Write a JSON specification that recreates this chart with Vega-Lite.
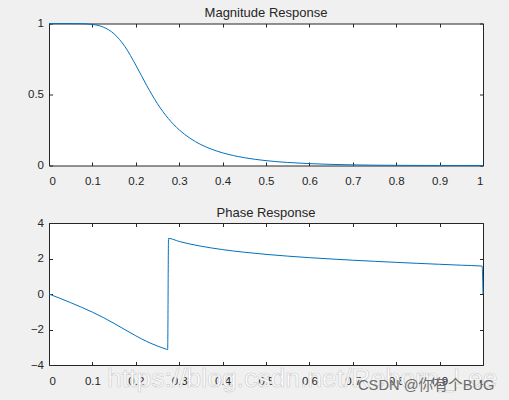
{
  "$schema": "https://vega.github.io/schema/vega-lite/v6.json",
  "background": "#f0f0f0",
  "padding": {"left": 0, "top": 6.5, "right": 11, "bottom": 7},
  "spacing": 18.5,
  "datasets": {
    "mag": [
      {"f": 0, "m": 1}, {"f": 0.025, "m": 1}, {"f": 0.05, "m": 0.9999}, {"f": 0.075, "m": 0.9988},
      {"f": 0.1, "m": 0.9934}, {"f": 0.125, "m": 0.9747}, {"f": 0.15, "m": 0.9273}, {"f": 0.175, "m": 0.837},
      {"f": 0.2, "m": 0.7071}, {"f": 0.225, "m": 0.5641}, {"f": 0.25, "m": 0.4346}, {"f": 0.275, "m": 0.3304},
      {"f": 0.3, "m": 0.251}, {"f": 0.325, "m": 0.1917}, {"f": 0.35, "m": 0.1474}, {"f": 0.375, "m": 0.1142},
      {"f": 0.4, "m": 0.0891}, {"f": 0.45, "m": 0.055}, {"f": 0.5, "m": 0.0343}, {"f": 0.55, "m": 0.0214},
      {"f": 0.6, "m": 0.0132}, {"f": 0.65, "m": 0.0079}, {"f": 0.7, "m": 0.0045}, {"f": 0.75, "m": 0.0024},
      {"f": 0.8, "m": 0.0012}, {"f": 0.85, "m": 0.0005}, {"f": 0.9, "m": 0.0001}, {"f": 0.95, "m": 0}, {"f": 1, "m": 0}
    ],
    "phase": [
      {"f": 0, "p": 0}, {"f": 0.025, "p": -0.242}, {"f": 0.05, "p": -0.489}, {"f": 0.075, "p": -0.747},
      {"f": 0.1, "p": -1.023}, {"f": 0.125, "p": -1.324}, {"f": 0.15, "p": -1.657}, {"f": 0.175, "p": -2.009},
      {"f": 0.2, "p": -2.356}, {"f": 0.225, "p": -2.669}, {"f": 0.25, "p": -2.932}, {"f": 0.26, "p": -3.023},
      {"f": 0.27, "p": -3.108}, {"f": 0.2734, "p": -3.136}, {"f": 0.2754, "p": 3.132}, {"f": 0.3, "p": 2.96},
      {"f": 0.325, "p": 2.815}, {"f": 0.35, "p": 2.694}, {"f": 0.375, "p": 2.591}, {"f": 0.4, "p": 2.501},
      {"f": 0.45, "p": 2.353}, {"f": 0.5, "p": 2.233}, {"f": 0.55, "p": 2.133}, {"f": 0.6, "p": 2.047},
      {"f": 0.65, "p": 1.972}, {"f": 0.7, "p": 1.904}, {"f": 0.75, "p": 1.841}, {"f": 0.8, "p": 1.782},
      {"f": 0.85, "p": 1.727}, {"f": 0.9, "p": 1.674}, {"f": 0.95, "p": 1.622}, {"f": 0.998, "p": 1.573},
      {"f": 1, "p": 0}
    ],
    "url": [{"f": 0.1336, "p": -5.25, "label": "https://blog.csdn.net/Reborn_Lee"}],
    "sign": [{"f": 0.712, "p": -5.4, "label": "CSDN @你有个BUG"}]
  },
  "config": {
    "font": "Liberation Sans",
    "view": {"stroke": "#262626", "fill": "white"},
    "axis": {
      "grid": false,
      "domain": false,
      "title": null,
      "tickColor": "#262626",
      "tickSize": -3.5,
      "labelColor": "#262626",
      "labelFont": "Liberation Sans",
      "labelFontSize": 11.5
    },
    "title": {"fontSize": 13, "fontWeight": "normal", "color": "#262626", "offset": -2.7, "font": "Liberation Sans"}
  },
  "vconcat": [
    {
      "title": "Magnitude Response",
      "width": 434,
      "height": 142,
      "data": {"name": "mag"},
      "layer": [
        {
          "mark": {"type": "line", "color": "#0072BD", "strokeWidth": 1, "interpolate": "monotone"},
          "encoding": {
            "x": {"field": "f", "type": "quantitative", "scale": {"domain": [0, 1], "nice": false},
                  "axis": {"values": [0, 0.1, 0.2, 0.3, 0.4, 0.5, 0.6, 0.7, 0.8, 0.9, 1], "format": "~g", "labelPadding": 13.5, "minExtent": 20, "maxExtent": 20}},
            "y": {"field": "m", "type": "quantitative", "scale": {"domain": [0, 1], "nice": false},
                  "axis": {"values": [0, 0.5, 1], "format": "~g", "labelPadding": 9, "minExtent": 48, "maxExtent": 48}}
          }
        },
        {
          "mark": {"type": "line", "opacity": 0},
          "encoding": {
            "x": {"field": "f", "type": "quantitative", "scale": {"domain": [0, 1], "nice": false},
                  "axis": {"orient": "top", "labels": false, "values": [0, 0.1, 0.2, 0.3, 0.4, 0.5, 0.6, 0.7, 0.8, 0.9, 1], "minExtent": 0, "maxExtent": 0}},
            "y": {"field": "m", "type": "quantitative", "scale": {"domain": [0, 1], "nice": false},
                  "axis": {"orient": "right", "labels": false, "values": [0, 0.5, 1], "minExtent": 0, "maxExtent": 0}}
          }
        }
      ],
      "resolve": {"axis": {"x": "independent", "y": "independent"}}
    },
    {
      "title": "Phase Response",
      "width": 434,
      "height": 142,
      "data": {"name": "phase"},
      "layer": [
        {
          "mark": {"type": "line", "color": "#0072BD", "strokeWidth": 1, "interpolate": "monotone"},
          "encoding": {
            "x": {"field": "f", "type": "quantitative", "scale": {"domain": [0, 1], "nice": false},
                  "axis": {"values": [0, 0.1, 0.2, 0.3, 0.4, 0.5, 0.6, 0.7, 0.8, 0.9, 1], "format": "~g", "labelPadding": 13.5, "minExtent": 20, "maxExtent": 20}},
            "y": {"field": "p", "type": "quantitative", "scale": {"domain": [-4, 4], "nice": false},
                  "axis": {"values": [-4, -2, 0, 2, 4], "format": "~g", "labelPadding": 9, "minExtent": 48, "maxExtent": 48}}
          }
        },
        {
          "mark": {"type": "line", "opacity": 0},
          "encoding": {
            "x": {"field": "f", "type": "quantitative", "scale": {"domain": [0, 1], "nice": false},
                  "axis": {"orient": "top", "labels": false, "values": [0, 0.1, 0.2, 0.3, 0.4, 0.5, 0.6, 0.7, 0.8, 0.9, 1], "minExtent": 0, "maxExtent": 0}},
            "y": {"field": "p", "type": "quantitative", "scale": {"domain": [-4, 4], "nice": false},
                  "axis": {"orient": "right", "labels": false, "values": [-4, -2, 0, 2, 4], "minExtent": 0, "maxExtent": 0}}
          }
        },
        {
          "data": {"name": "url"},
          "mark": {"type": "text", "align": "left", "baseline": "alphabetic", "fontSize": 26.5, "fill": "white", "stroke": "#cfcfcf", "strokeWidth": 0.7, "clip": false},
          "encoding": {
            "x": {"field": "f", "type": "quantitative", "scale": {"domain": [0, 1], "nice": false}, "axis": null},
            "y": {"field": "p", "type": "quantitative", "scale": {"domain": [-4, 4], "nice": false}, "axis": null},
            "text": {"field": "label"}
          }
        },
        {
          "data": {"name": "sign"},
          "mark": {"type": "text", "align": "left", "baseline": "alphabetic", "fontSize": 14.7, "font": "Liberation Sans, Noto Sans CJK SC", "color": "#6b6b6b", "clip": false},
          "encoding": {
            "x": {"field": "f", "type": "quantitative", "scale": {"domain": [0, 1], "nice": false}, "axis": null},
            "y": {"field": "p", "type": "quantitative", "scale": {"domain": [-4, 4], "nice": false}, "axis": null},
            "text": {"field": "label"}
          }
        }
      ],
      "resolve": {"axis": {"x": "independent", "y": "independent"}}
    }
  ]
}
